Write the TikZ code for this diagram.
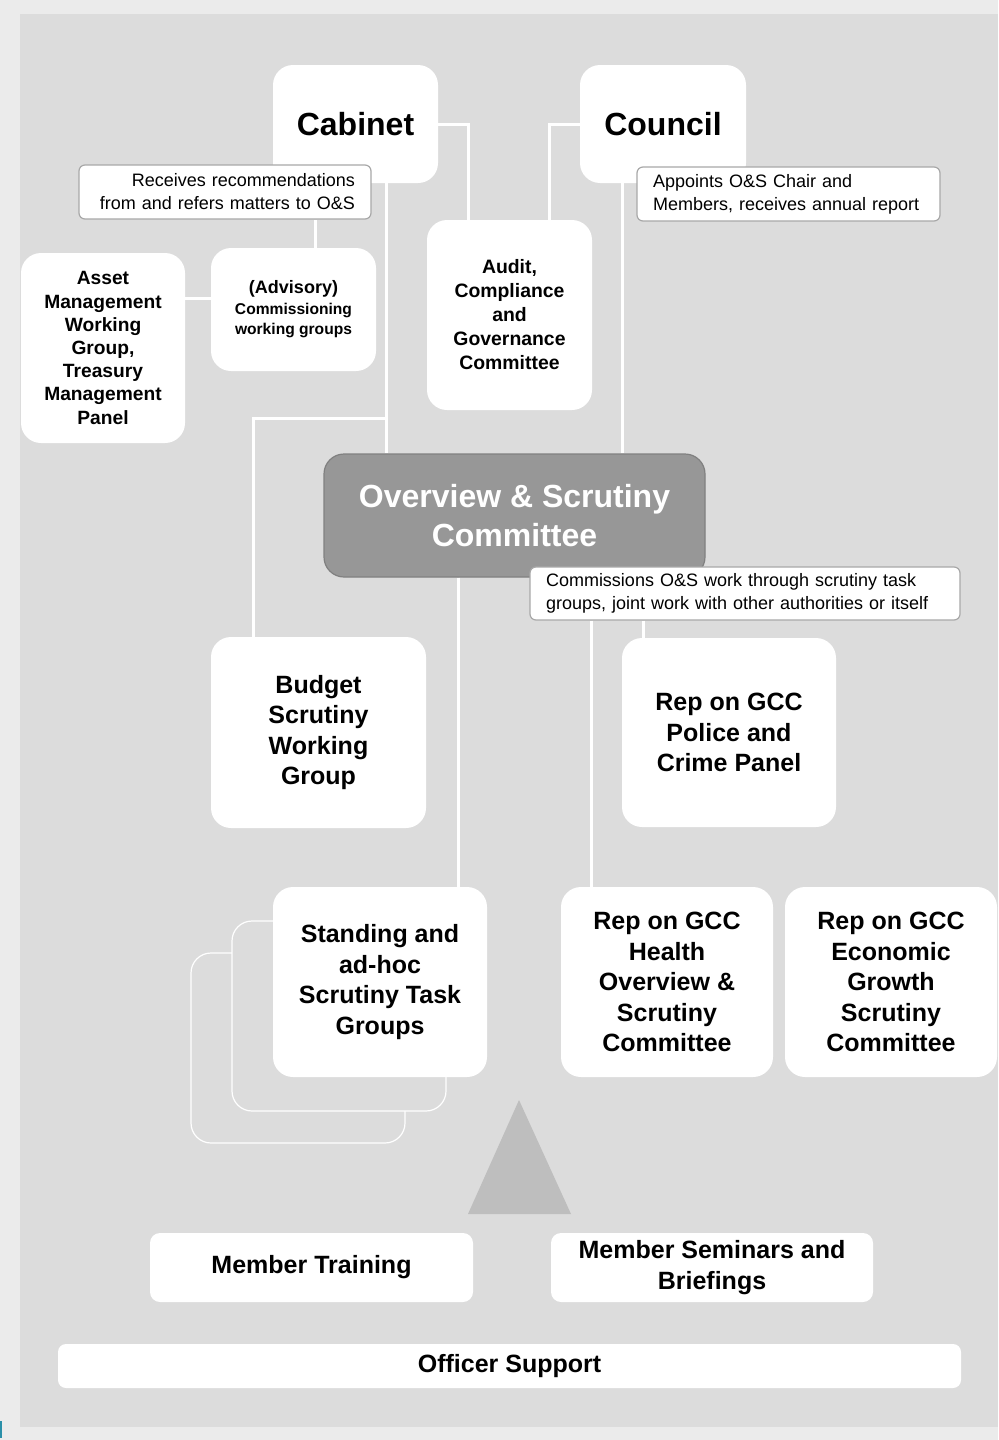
\documentclass[tikz,border=0pt]{standalone}
\usepackage{fontspec}
\setmainfont{Liberation Sans}
\definecolor{bgout}{HTML}{EBEBEB}
\definecolor{bgin}{HTML}{DCDCDC}
\definecolor{notegray}{HTML}{A8A8A8}
\definecolor{osfill}{HTML}{979797}
\definecolor{osline}{HTML}{808080}
\definecolor{trifill}{HTML}{BEBEBE}
\definecolor{teal}{HTML}{2A8FA8}
\begin{document}
\begin{tikzpicture}[x=0.5pt,y=-0.5pt,
  box/.style={fill=white, draw=none, rounded corners=10pt, align=center, inner sep=0pt,
    font=\bfseries\fontsize{12.5}{15.3}\selectfont},
  smallbox/.style={box, font=\bfseries\fontsize{9.6}{11.6}\selectfont},
  bigbox/.style={box, font=\bfseries\fontsize{16}{19}\selectfont},
  flatbox/.style={box, rounded corners=5pt},
  note/.style={draw=notegray, line width=0.6pt, fill=white, rounded corners=3pt,
    inner xsep=8pt, inner ysep=0pt, minimum height=27pt, font=\fontsize{9}{11.5}\selectfont},
  ghost/.style={draw=white, line width=0.6pt, fill=bgin, rounded corners=10pt,
    minimum width=107pt, minimum height=95pt, inner sep=0pt},
  conn/.style={white, line width=1.5pt}]
\useasboundingbox (0,0) rectangle (998,1440);
\fill[bgout] (0,0) rectangle (998,1440);
\fill[bgin] (20,14) rectangle (998,1427);
\draw[teal, line width=1pt] (1,1421) -- (1,1438);

% top level
\node[bigbox, minimum width=82.5pt, minimum height=59pt] (cab) at (355.5,124) {Cabinet};
\node[bigbox, minimum width=83pt, minimum height=59pt] (cou) at (663,124) {Council};
\node[note, text width=130pt, align=right] (cabnote) at (225,192)
  {Receives recommendations\\from and refers matters to O\&S};
\node[note, text width=135.5pt, align=left] (counote) at (788.5,194)
  {Appoints O\&S Chair and\\Members, receives annual report};

\node[box, font=\bfseries\fontsize{7.8}{10.25}\selectfont, minimum width=82.5pt, minimum height=61.5pt] (adv) at (293.5,309.5)
  {{\fontsize{9}{10.25}\selectfont(Advisory)}\\Commissioning\\working groups};
\node[smallbox, minimum width=82pt, minimum height=95pt] (asset) at (103,348)
  {Asset\\Management\\Working\\Group,\\Treasury\\Management\\Panel};
\node[smallbox, font=\bfseries\fontsize{9.7}{12}\selectfont, minimum width=82.5pt, minimum height=95pt] (audit) at (509.5,315)
  {Audit,\\Compliance\\and\\Governance\\Committee};

% O&S
\node[box, fill=osfill, draw=osline, line width=0.6pt, text=white,
  font=\bfseries\fontsize{16}{19.5}\selectfont,
  minimum width=190.5pt, minimum height=61.5pt] (os) at (514.5,515.5)
  {Overview \& Scrutiny\\Committee};
\node[note, text width=199pt, align=left, minimum height=26.5pt] (osnote) at (745,593.5)
  {Commissions O\&S work through scrutiny task\\groups, joint work with other authorities or itself};

% middle row
\node[box, minimum width=107.5pt, minimum height=95.5pt] (budget) at (318.5,732.5)
  {Budget\\Scrutiny\\Working\\Group};
\node[box, minimum width=107pt, minimum height=94.5pt] (police) at (729,732.5)
  {Rep on GCC\\Police and\\Crime Panel};

% lower row
\node[ghost] (stack3) at (298,1048) {};
\node[ghost] (stack2) at (339,1016) {};
\node[box, minimum width=107pt, minimum height=95pt] (stand) at (380,982)
  {Standing and\\ad-hoc\\Scrutiny Task\\Groups};
\node[box, minimum width=106pt, minimum height=95pt] (health) at (667,982)
  {Rep on GCC\\Health\\Overview \&\\Scrutiny\\Committee};
\node[box, minimum width=106pt, minimum height=95pt] (econ) at (891,982)
  {Rep on GCC\\Economic\\Growth\\Scrutiny\\Committee};

% triangle
\fill[trifill] (468,1214) -- (519,1100) -- (571,1214) -- cycle;

% bottom
\node[flatbox, minimum width=161.5pt, minimum height=34.5pt] (train) at (311.5,1267.5)
  {Member Training};
\node[flatbox, minimum width=161pt, minimum height=34.5pt] (sem) at (712,1267.5)
  {Member Seminars and\\Briefings};
\node[flatbox, rounded corners=4pt, minimum width=451.5pt, minimum height=22pt] (officer) at (509.5,1366)
  {Officer Support};

% connectors
\draw[conn] (cab.east) -| ([xshift=15pt]cab.east |- audit.north);
\draw[conn] (cou.west) -| ([xshift=-15pt]cou.west |- audit.north);
\draw[conn] ([xshift=15.25pt]cab.south) -- ([xshift=15.25pt]cab.south |- os.north);
\coordinate (j1) at (386,418);
\draw[conn] (j1) -| ([xshift=-32.75pt]budget.north);
\draw[conn] ([xshift=10.75pt]adv.north) -- ([xshift=10.75pt]adv.north |- cabnote.south);
\draw[conn] ([yshift=25pt]asset.east) -- ([yshift=25pt]asset.east -| adv.west);
\draw[conn] ([xshift=-20.5pt]cou.south) -- ([xshift=-20.5pt]cou.south |- os.north);
\draw[conn] ([xshift=-28.25pt]os.south) -- ([xshift=-28.25pt]os.south |- stand.north);
\draw[conn] ([xshift=-77pt]osnote.south) -- ([xshift=-77pt]osnote.south |- health.north);
\draw[conn] ([xshift=-51pt]osnote.south) -- ([xshift=-51pt]osnote.south |- police.north);
\end{tikzpicture}
\end{document}
